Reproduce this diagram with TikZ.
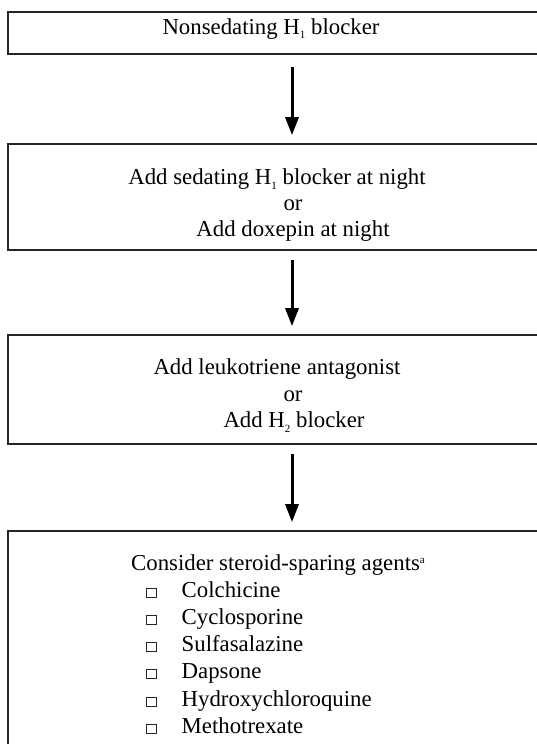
\documentclass[tikz,border=0pt]{standalone}
\usepackage{fontspec}
\setmainfont{Liberation Serif}
\usetikzlibrary{arrows.meta}
% small lowered index (H1, H2) and small raised note mark
\newcommand{\lowidx}[1]{\raisebox{-5pt}{\fontsize{11}{11}\selectfont #1}}
\newcommand{\notemark}[1]{\raisebox{7pt}{\fontsize{11}{11}\selectfont #1}}
\begin{document}
\begin{tikzpicture}[x=1pt,y=-1pt,
  box/.style={draw=black!85, line width=1.6pt, rectangle, inner sep=0pt},
  txt/.style={font=\fontsize{22.8}{27}\selectfont, inner sep=0pt, anchor=base},
  ltxt/.style={txt, anchor=base west},
  chk/.style={draw=black!85, line width=0.9pt, rectangle, inner sep=0pt,
              minimum width=9.5pt, minimum height=9pt},
  flow/.style={line width=3pt, -{Triangle[length=18pt,width=13pt]}}]
\useasboundingbox (0,0) rectangle (537,744);
\fill[white] (0,0) rectangle (537,744);

% steps (right edges run past the page)
\node[box, minimum width=572pt, minimum height=42pt]  (b1) at (294,33)    {};
\node[box, minimum width=572pt, minimum height=106pt] (b2) at (294,197)   {};
\node[box, minimum width=572pt, minimum height=109pt] (b3) at (294,389.5) {};
\node[box, minimum width=572pt, minimum height=240pt] (b4) at (294,651)   {};

% step texts
\node[txt] (t1) at (271,34) {Nonsedating H\lowidx{1} blocker};

\node[txt] (t2a) at (277,184) {Add sedating H\lowidx{1} blocker at night};
\node[txt] (t2b) at (293,210) {or};
\node[txt] (t2c) at (293,236) {Add doxepin at night};

\node[txt] (t3a) at (277,374.5) {Add leukotriene antagonist};
\node[txt] (t3b) at (293,401)   {or};
\node[txt] (t3c) at (294,427.5) {Add H\lowidx{2} blocker};

\node[ltxt] (t4) at (131,570) {Consider steroid-sparing agents\notemark{a}};
\foreach \i/\name in {0/Colchicine,1/Cyclosporine,2/Sulfasalazine,3/Dapsone,4/Hydroxychloroquine,5/Methotrexate}{
  \node[chk]  (c\i) at (151.5,{592.5+27.3*\i}) {};
  \node[ltxt] (m\i) at (181.5,{597+27.3*\i}) {\name};
}

% connectors
\coordinate (ax) at (292,0);
\draw[flow, shorten <=12pt, shorten >=8pt] (b1.south -| ax) -- (b2.north -| ax);
\draw[flow, shorten <=9pt,  shorten >=8pt] (b2.south -| ax) -- (b3.north -| ax);
\draw[flow, shorten <=9pt,  shorten >=8pt] (b3.south -| ax) -- (b4.north -| ax);
\end{tikzpicture}
\end{document}
